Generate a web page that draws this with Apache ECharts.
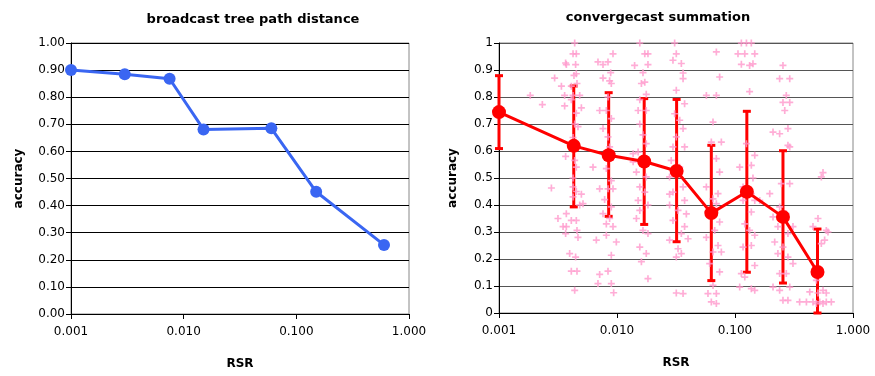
<!DOCTYPE html>
<html>
<head>
<meta charset="UTF-8">
<title>accuracy vs RSR</title>
<script src="https://cdn.jsdelivr.net/npm/echarts@6/dist/echarts.min.js"></script>
<style>
    html, body { margin: 0; padding: 0; background: #fff; }
    #main { width: 875px; height: 376px; }
</style>
</head>
<body>
<div id="main"></div>
<script>
    // broadcast tree path distance (left)
    var bcastRsr = [0.001, 0.003, 0.0075, 0.015, 0.06, 0.15, 0.6];
    var bcastAcc = [0.90, 0.885, 0.868, 0.681, 0.685, 0.451, 0.255];

    // convergecast summation (right): means and error bar ends
    var convRsr = [0.001, 0.0043, 0.0085, 0.017, 0.032, 0.063, 0.126, 0.255, 0.5];
    var convAcc = [0.744, 0.619, 0.584, 0.561, 0.526, 0.370, 0.449, 0.356, 0.152];
    var convHigh = [0.879, 0.841, 0.816, 0.794, 0.791, 0.621, 0.747, 0.601, 0.311];
    var convLow = [0.609, 0.393, 0.358, 0.328, 0.264, 0.120, 0.151, 0.111, 0.0];

    // individual runs (pink crosses), [RSR, accuracy]
    var runs = [
        [0.00184, 0.806], [0.00233, 0.772], [0.00296, 0.870], [0.00278, 0.463],
        [0.00338, 0.840], [0.00316, 0.350], [0.00349, 0.320], [0.00367, 0.294],
        [0.00367, 0.926], [0.0036, 0.806], [0.0036, 0.767],
        [0.00438, 1.0], [0.00424, 0.96], [0.00452, 0.96], [0.00372, 0.92], [0.00446, 0.92],
        [0.00452, 0.886], [0.00432, 0.88], [0.0041, 0.84], [0.00458, 0.85], [0.00424, 0.806],
        [0.00483, 0.806], [0.0041, 0.79], [0.00499, 0.76], [0.00452, 0.74], [0.00438, 0.70],
        [0.00467, 0.69], [0.00424, 0.65], [0.00452, 0.615], [0.00367, 0.58], [0.00438, 0.565],
        [0.00452, 0.54], [0.00424, 0.50], [0.00424, 0.467], [0.00452, 0.45], [0.00499, 0.44],
        [0.00424, 0.43], [0.00483, 0.40], [0.00372, 0.368], [0.0041, 0.343], [0.00452, 0.343],
        [0.00372, 0.32], [0.00458, 0.306], [0.00467, 0.28], [0.00397, 0.22], [0.00446, 0.207],
        [0.0041, 0.155], [0.00458, 0.155], [0.00438, 0.084], [0.00515, 0.405],
        [0.0069, 0.93], [0.00761, 0.92], [0.00839, 0.93], [0.00925, 0.96], [0.00884, 0.89],
        [0.00866, 0.86], [0.00895, 0.85], [0.00761, 0.87], [0.00839, 0.80], [0.00713, 0.75],
        [0.00812, 0.75], [0.00895, 0.72], [0.00761, 0.683], [0.00839, 0.652], [0.00866, 0.615],
        [0.00925, 0.578], [0.00626, 0.54], [0.00812, 0.535], [0.00895, 0.49], [0.00713, 0.46],
        [0.00839, 0.46], [0.00925, 0.46], [0.00786, 0.42], [0.00895, 0.393], [0.00761, 0.368],
        [0.00866, 0.35], [0.00668, 0.27], [0.00812, 0.288], [0.00925, 0.32], [0.00987, 0.263],
        [0.00895, 0.214], [0.00713, 0.143], [0.00839, 0.155], [0.0069, 0.109], [0.00895, 0.109],
        [0.00937, 0.075], [0.00812, 0.33],
        [0.0156, 1.0], [0.0172, 0.96], [0.0183, 0.96], [0.0141, 0.917], [0.0183, 0.92],
        [0.0166, 0.89], [0.0161, 0.85], [0.0172, 0.855], [0.0177, 0.81], [0.0156, 0.79],
        [0.0177, 0.75], [0.0151, 0.75], [0.0156, 0.70], [0.0166, 0.66], [0.0177, 0.627],
        [0.0151, 0.596], [0.0137, 0.59], [0.0166, 0.553], [0.0146, 0.522], [0.0177, 0.504],
        [0.0156, 0.467], [0.0172, 0.448], [0.0151, 0.417], [0.0183, 0.40], [0.0156, 0.38],
        [0.0146, 0.35], [0.0183, 0.294], [0.0166, 0.306], [0.0156, 0.244], [0.0177, 0.22],
        [0.0161, 0.19], [0.0183, 0.127], [0.0137, 0.56],
        [0.0308, 1.0], [0.0318, 0.96], [0.0298, 0.936], [0.0351, 0.924], [0.0363, 0.889],
        [0.0363, 0.868], [0.0318, 0.825], [0.0374, 0.775], [0.0308, 0.738], [0.034, 0.714],
        [0.0363, 0.683], [0.0318, 0.652], [0.0298, 0.615], [0.0374, 0.615], [0.0288, 0.565],
        [0.034, 0.54], [0.0279, 0.504], [0.0363, 0.467], [0.0298, 0.448], [0.0374, 0.417],
        [0.0279, 0.40], [0.0329, 0.38], [0.0298, 0.343], [0.0374, 0.32], [0.0351, 0.294],
        [0.040, 0.275], [0.0279, 0.27], [0.0329, 0.238], [0.0318, 0.207], [0.0351, 0.22],
        [0.0318, 0.074], [0.0363, 0.072], [0.0279, 0.44], [0.0387, 0.367],
        [0.0695, 0.967], [0.0572, 0.806], [0.0695, 0.806], [0.0651, 0.707], [0.063, 0.633],
        [0.0766, 0.633], [0.0695, 0.572], [0.0741, 0.522], [0.0572, 0.467], [0.0718, 0.442],
        [0.0651, 0.423], [0.0695, 0.405], [0.061, 0.368], [0.0741, 0.337], [0.0673, 0.306],
        [0.0572, 0.28], [0.0718, 0.25], [0.0651, 0.226], [0.0766, 0.226], [0.061, 0.183],
        [0.0741, 0.152], [0.0651, 0.102], [0.059, 0.072], [0.0695, 0.072], [0.063, 0.041],
        [0.0695, 0.035], [0.0741, 0.874],
        [0.1132, 1.0], [0.125, 1.0], [0.1375, 1.0], [0.106, 0.96], [0.121, 0.96],
        [0.147, 0.96], [0.1132, 0.921], [0.133, 0.917], [0.142, 0.923], [0.133, 0.82],
        [0.125, 0.627], [0.1096, 0.54], [0.1375, 0.547], [0.147, 0.584], [0.142, 0.50],
        [0.117, 0.467], [0.1375, 0.442], [0.147, 0.417], [0.117, 0.417], [0.1375, 0.374],
        [0.121, 0.33], [0.133, 0.306], [0.147, 0.288], [0.1375, 0.25], [0.117, 0.244],
        [0.147, 0.176], [0.121, 0.133], [0.1132, 0.146], [0.1375, 0.09], [0.147, 0.084],
        [0.1096, 0.096], [0.162, 0.417],
        [0.255, 0.917], [0.239, 0.868], [0.291, 0.868], [0.272, 0.806], [0.255, 0.78],
        [0.291, 0.78], [0.264, 0.75], [0.210, 0.67], [0.239, 0.664], [0.281, 0.683],
        [0.281, 0.621], [0.291, 0.615], [0.247, 0.479], [0.291, 0.479], [0.197, 0.442],
        [0.239, 0.393], [0.272, 0.368], [0.210, 0.356], [0.231, 0.32], [0.281, 0.294],
        [0.310, 0.32], [0.217, 0.263], [0.255, 0.244], [0.231, 0.22], [0.281, 0.207],
        [0.310, 0.183], [0.239, 0.146], [0.272, 0.146], [0.210, 0.096], [0.291, 0.096],
        [0.255, 0.047], [0.281, 0.047], [0.239, 0.084],
        [0.557, 0.52], [0.539, 0.504], [0.505, 0.35], [0.594, 0.306], [0.458, 0.32],
        [0.575, 0.27], [0.539, 0.257], [0.489, 0.121], [0.557, 0.084], [0.43, 0.078],
        [0.505, 0.074], [0.594, 0.074], [0.353, 0.041], [0.403, 0.041], [0.458, 0.041],
        [0.522, 0.041], [0.594, 0.041], [0.655, 0.041], [0.489, 0.035], [0.557, 0.035],
        [0.614, 0.30]
    ];

    var font = 'DejaVu Sans, Verdana, sans-serif';
    var plus = 'path://M3.8,0h2.4v3.8h3.8v2.4h-3.8v3.8h-2.4v-3.8h-3.8v-2.4h3.8z';

    function xAxisFor(idx) {
        return {
            type: 'log', logBase: 10, min: 0.001, max: 1, gridIndex: idx,
            name: 'RSR', nameLocation: 'middle', nameGap: 44,
            nameTextStyle: { fontFamily: font, fontWeight: 'bold', fontSize: 12, color: '#000' },
            axisLine: { show: true, lineStyle: { color: '#000', width: 1 } },
            axisTick: { show: true, length: 5, lineStyle: { color: '#000' } },
            minorTick: { show: false },
            splitLine: { show: false },
            axisLabel: {
                fontFamily: font, fontSize: 12, color: '#000', margin: 12,
                formatter: function (v) { return v.toFixed(3); }
            }
        };
    }

    function yAxisFor(idx, digits, gridColor) {
        return {
            type: 'value', min: 0, max: 1, interval: 0.1, gridIndex: idx,
            name: 'accuracy', nameLocation: 'middle', nameRotate: 90,
            nameGap: idx === 0 ? 46 : 40,
            nameTextStyle: { fontFamily: font, fontWeight: 'bold', fontSize: 12, color: '#000' },
            axisLine: { show: true, lineStyle: { color: '#000', width: 1 } },
            axisTick: { show: true, length: 5, lineStyle: { color: '#000' } },
            splitLine: { show: true, lineStyle: { color: gridColor, width: 1 } },
            axisLabel: {
                fontFamily: font, fontSize: 12, color: '#000', margin: 6,
                formatter: function (v) {
                    return digits ? v.toFixed(digits) : String(Math.round(v * 10) / 10);
                }
            }
        };
    }

    var chart = echarts.init(document.getElementById('main'));

    var option = {
        animation: false,
        backgroundColor: '#fff',
        title: [
            { text: 'broadcast tree path distance', left: 248, top: 8, textAlign: 'center',
              textStyle: { fontFamily: font, fontWeight: 'bold', fontSize: 13, color: '#000' } },
            { text: 'convergecast summation', left: 653, top: 6, textAlign: 'center',
              textStyle: { fontFamily: font, fontWeight: 'bold', fontSize: 13, color: '#000' } }
        ],
        grid: [
            { left: 71, right: 466, top: 43, bottom: 62, show: true, borderColor: '#888', borderWidth: 1 },
            { left: 499, right: 22, top: 43, bottom: 63, show: true, borderColor: '#888', borderWidth: 1 }
        ],
        xAxis: [xAxisFor(0), xAxisFor(1)],
        yAxis: [yAxisFor(0, 2, '#000'), yAxisFor(1, 0, '#555')],
        series: [
            {
                type: 'line', xAxisIndex: 0, yAxisIndex: 0,
                data: bcastRsr.map(function (x, i) { return [x, bcastAcc[i]]; }),
                symbol: 'circle', symbolSize: 12,
                lineStyle: { color: '#3a66f2', width: 3 },
                itemStyle: { color: '#3a66f2' },
                z: 3
            },
            {
                type: 'custom', xAxisIndex: 1, yAxisIndex: 1,
                data: convRsr.map(function (x, i) { return [x, convLow[i], convHigh[i]]; }),
                renderItem: function (params, api) {
                    var lo = api.coord([api.value(0), api.value(1)]);
                    var hi = api.coord([api.value(0), api.value(2)]);
                    var w = 4;
                    var st = { stroke: '#ff0000', lineWidth: 3 };
                    return {
                        type: 'group',
                        children: [
                            { type: 'line', shape: { x1: lo[0], y1: lo[1], x2: hi[0], y2: hi[1] }, style: st },
                            { type: 'line', shape: { x1: lo[0] - w, y1: lo[1], x2: lo[0] + w, y2: lo[1] }, style: st },
                            { type: 'line', shape: { x1: hi[0] - w, y1: hi[1], x2: hi[0] + w, y2: hi[1] }, style: st }
                        ]
                    };
                },
                z: 2
            },
            {
                type: 'scatter', xAxisIndex: 1, yAxisIndex: 1,
                data: runs,
                symbol: plus, symbolSize: 7,
                itemStyle: { color: '#ff99cc' },
                z: 3
            },
            {
                type: 'line', xAxisIndex: 1, yAxisIndex: 1,
                data: convRsr.map(function (x, i) { return [x, convAcc[i]]; }),
                symbol: 'circle', symbolSize: 14,
                lineStyle: { color: '#ff0000', width: 3 },
                itemStyle: { color: '#ff0000' },
                z: 4
            }
        ]
    };

    chart.setOption(option);
</script>
</body>
</html>
